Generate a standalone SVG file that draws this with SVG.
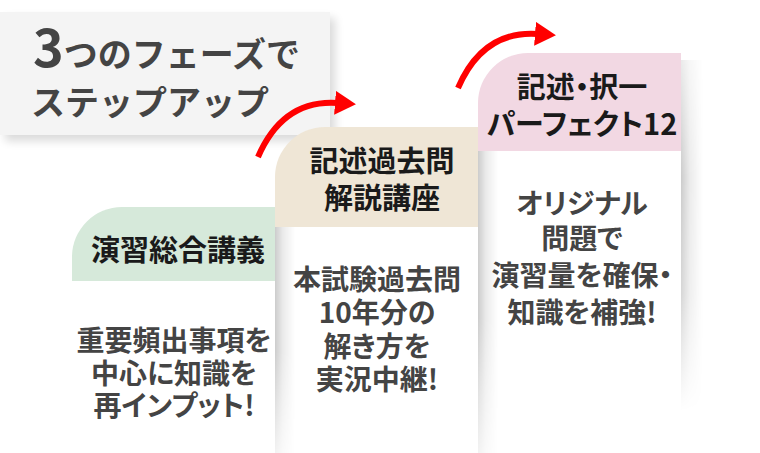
<svg xmlns="http://www.w3.org/2000/svg" width="760" height="453" viewBox="0 0 760 453">
<defs>
<style>
.t{font-family:"Noto Sans CJK JP","Noto Sans",sans-serif;font-weight:700}
.ttl{font-size:34px;fill:#444}
.hd{font-size:29px;fill:#1a1a1a;text-anchor:middle;font-feature-settings:"palt"}
.bd{font-size:28px;fill:#444;text-anchor:middle;font-feature-settings:"palt"}
.arrow{fill:none;stroke:#ff0000;stroke-width:6;marker-end:url(#ah)}
.body{fill:#fff}
.sh{fill:url(#shR);mask:url(#fade)}
</style>
<linearGradient id="shR" x1="0" y1="0" x2="1" y2="0">
<stop offset="0" stop-color="#000" stop-opacity="0.2"/>
<stop offset="0.4" stop-color="#000" stop-opacity="0.08"/>
<stop offset="1" stop-color="#000" stop-opacity="0"/>
</linearGradient>
<linearGradient id="vfade" x1="0" y1="0" x2="0" y2="1">
<stop offset="0" stop-color="#fff"/>
<stop offset="0.55" stop-color="#fff"/>
<stop offset="1" stop-color="#fff" stop-opacity="0.25"/>
</linearGradient>
<linearGradient id="vfade2" x1="0" y1="0" x2="0" y2="1">
<stop offset="0" stop-color="#fff" stop-opacity="0.4"/>
<stop offset="0.3" stop-color="#fff"/>
<stop offset="0.6" stop-color="#fff" stop-opacity="0.8"/>
<stop offset="0.9" stop-color="#fff" stop-opacity="0"/>
</linearGradient>
<mask id="fade" maskContentUnits="objectBoundingBox"><rect width="1" height="1" fill="url(#vfade)"/></mask>
<mask id="fade2" maskContentUnits="objectBoundingBox"><rect width="1" height="1" fill="url(#vfade2)"/></mask>
<filter id="ds" x="-10%" y="-20%" width="130%" height="150%">
<feGaussianBlur in="SourceAlpha" stdDeviation="5"/>
<feOffset dx="5" dy="6"/>
<feComponentTransfer><feFuncA type="linear" slope="0.15"/></feComponentTransfer>
<feMerge><feMergeNode/><feMergeNode in="SourceGraphic"/></feMerge>
</filter>
<marker id="ah" markerUnits="userSpaceOnUse" viewBox="0 0 21 24" markerWidth="21" markerHeight="24" refX="3" refY="12" orient="auto">
<path d="M0,0 L21,12 L0,24 Z" fill="#ff0000"/>
</marker>
</defs>
<rect width="760" height="453" fill="#fff"/>

<g id="title">
<rect x="0" y="12" width="330" height="123" fill="#f4f4f4" filter="url(#ds)"/>
<text class="t ttl"><tspan x="33" y="67"><tspan font-size="52">3</tspan>つのフェーズで</tspan><tspan x="31" y="115">ステップアップ</tspan></text>
</g>

<g id="phase3">
<rect class="sh" x="681" y="60" width="22" height="390" style="mask:url(#fade2)"/>
<rect class="body" x="478" y="151" width="203" height="302"/>
<path d="M478,151 V103 A50,50 0 0 1 528,53 H681 V151 Z" fill="#f2d8e3"/>
<text class="t hd"><tspan x="582" y="98">記述・択一</tspan><tspan x="582" y="135">パーフェクト12</tspan></text>
<text class="t bd"><tspan x="582" y="214">オリジナル</tspan><tspan x="582" y="249">問題で</tspan><tspan x="582" y="286">演習量を確保・</tspan><tspan x="582" y="323">知識を補強!</tspan></text>
</g>

<g id="phase2">
<rect class="body" x="275" y="227" width="203" height="226"/>
<path d="M275,227 V177 A50,50 0 0 1 325,127 H478 V227 Z" fill="#efe6d6"/>
<rect class="sh" x="478" y="151" width="20" height="302"/>
<text class="t hd"><tspan x="382" y="172">記述過去問</tspan><tspan x="382" y="209">解説講座</tspan></text>
<text class="t bd"><tspan x="377" y="290">本試験過去問</tspan><tspan x="377" y="323">10年分の</tspan><tspan x="377" y="357">解き方を</tspan><tspan x="377" y="390">実況中継!</tspan></text>
</g>

<g id="phase1">
<rect class="body" x="72" y="281" width="203" height="172"/>
<path d="M72,281 V257 A50,50 0 0 1 122,207 H275 V281 Z" fill="#d6e9da"/>
<rect class="sh" x="275" y="227" width="20" height="226"/>
<text class="t hd" x="178" y="261">演習総合講義</text>
<text class="t bd"><tspan x="174" y="351">重要頻出事項を</tspan><tspan x="174" y="384">中心に知識を</tspan><tspan x="174" y="416">再インプット!</tspan></text>
</g>

<g id="connectors">
<path class="arrow" d="M258,157 Q283,99 338,103"/>
<path class="arrow" d="M458,88 Q483,30 538,34"/>
</g>
</svg>
